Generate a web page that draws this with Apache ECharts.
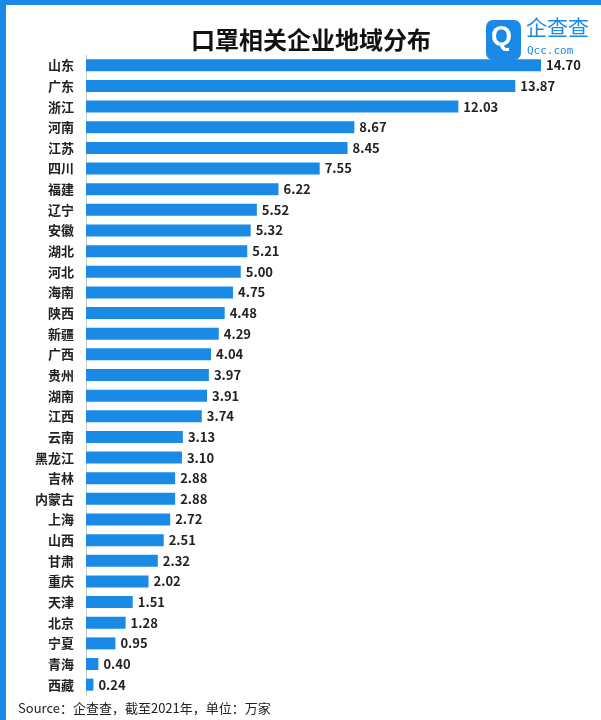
<!DOCTYPE html>
<html><head><meta charset="utf-8">
<script src="https://cdn.jsdelivr.net/npm/echarts@6/dist/echarts.min.js"></script>
<style>html,body{margin:0;padding:0;background:#fff}
#c{width:595px;height:715px;border-top:5px solid #1a8ae6;border-left:6px solid #1a8ae6;box-sizing:content-box}</style>
</head><body><div id="c"></div>
<script>
const provinces=["山东","广东","浙江","河南","江苏","四川","福建","辽宁","安徽","湖北","河北","海南","陕西","新疆","广西","贵州","湖南","江西","云南","黑龙江","吉林","内蒙古","上海","山西","甘肃","重庆","天津","北京","宁夏","青海","西藏"];
const counts=[14.70,13.87,12.03,8.67,8.45,7.55,6.22,5.52,5.32,5.21,5.00,4.75,4.48,4.29,4.04,3.97,3.91,3.74,3.13,3.10,2.88,2.88,2.72,2.51,2.32,2.02,1.51,1.28,0.95,0.40,0.24];
const chart=echarts.init(document.getElementById('c'));
const F='"Noto Sans CJK SC","Noto Sans",sans-serif';
chart.setOption({
 animation:false,
 title:{text:'口罩相关企业地域分布',left:180,top:18,textStyle:{fontFamily:F,fontSize:24,fontWeight:'bold',color:'#111'}},
 grid:{left:80,right:60,top:50,bottom:25},
 xAxis:{type:'value',min:0,max:14.70,show:false},
 yAxis:{type:'category',data:provinces,inverse:true,axisTick:{show:false},
  axisLine:{lineStyle:{color:'#ccc'}},axisLabel:{fontFamily:F,fontSize:13,fontWeight:'bold',color:'#222',margin:12}},
 series:[{type:'bar',data:counts,barWidth:12,itemStyle:{color:'#1a8ae6'},
  label:{show:true,position:'right',distance:5,fontFamily:F,fontSize:13,fontWeight:'bold',color:'#222',formatter:p=>p.value.toFixed(2)}}],
 graphic:[
  {type:'rect',left:480,top:15,shape:{width:35,height:40,r:7},style:{fill:'#1a8ae6'}},
  {type:'text',left:485,top:19,style:{text:'Q',fill:'#fff',font:'bold 27px sans-serif'}},
  {type:'text',left:520,top:12,style:{text:'企查查',fill:'#1a8ae6',font:'21px "Noto Sans CJK SC"'}},
  {type:'text',left:521,top:41,style:{text:'Qcc.com',fill:'#1a8ae6',font:'11px "DejaVu Sans Mono"'}},
  {type:'text',left:12,top:697,style:{text:'Source：企查查，截至2021年，单位：万家',fill:'#222',font:'13px '+F}}
 ]
});
</script></body></html>
